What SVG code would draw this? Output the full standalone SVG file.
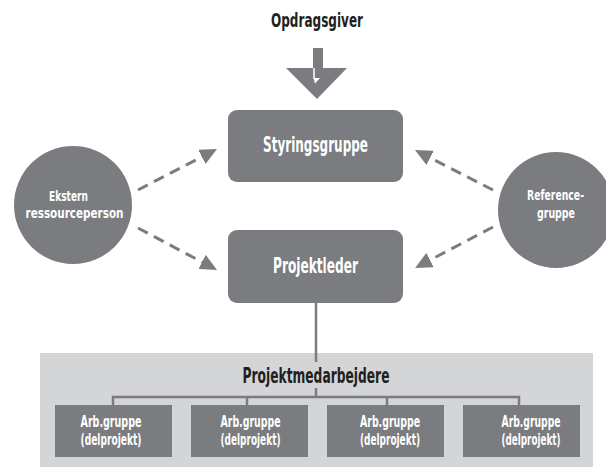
<svg xmlns="http://www.w3.org/2000/svg" width="606" height="467" viewBox="0 0 606 467">
<style>
.t{font-family:"DejaVu Sans Condensed","DejaVu Sans",sans-serif;font-weight:bold;text-anchor:middle}
.dark{fill:#231f20}
.white{fill:#ffffff}
.box{fill:#7b7c80}
.dash{stroke:#7b7c80;stroke-width:3;stroke-dasharray:11 7;fill:none}
.line{stroke:#7b7c80;stroke-width:2.5;fill:none}
</style>
<defs>
<marker id="ah" markerUnits="userSpaceOnUse" markerWidth="17" markerHeight="16" viewBox="0 0 17 16" refX="7" refY="8" orient="auto">
<path d="M0,0 L17,8 L0,16 z" fill="#7b7c80"/>
</marker>
</defs>
<rect x="40" y="353" width="553" height="114" fill="#d4d5d6"/>
<g id="opdragsgiver">
<text class="t dark" x="317" y="27" font-size="20" textLength="92" lengthAdjust="spacingAndGlyphs">Opdragsgiver</text>
<polygon points="286,68 347,68 317,99" fill="#7b7c80"/>
<rect x="313" y="48" width="10" height="33" fill="#7b7c80"/>
<line x1="314" y1="68" x2="314" y2="79" stroke="#ffffff" stroke-width="1.5"/>
<polygon points="313.5,78 320,78 315,83.5" fill="#ffffff"/>
</g>
<g id="connectors">
<line class="dash" x1="138" y1="190" x2="208.1" y2="153.6" marker-end="url(#ah)"/>
<line class="dash" x1="138" y1="228" x2="208.2" y2="265.3" marker-end="url(#ah)"/>
<line class="dash" x1="493" y1="190" x2="423.9" y2="154.6" marker-end="url(#ah)"/>
<line class="dash" x1="493" y1="227" x2="423.9" y2="263.3" marker-end="url(#ah)"/>
<line class="line" x1="316" y1="303" x2="316" y2="362"/>
<line class="line" x1="316" y1="388" x2="316" y2="397"/>
<polyline class="line" points="113,405 113,397 519,397 519,405"/>
<line class="line" x1="247" y1="397" x2="247" y2="405"/>
<line class="line" x1="387" y1="397" x2="387" y2="405"/>
</g>
<g id="styringsgruppe">
<rect class="box" x="228" y="110" width="175" height="72" rx="9"/>
<text class="t white" x="315.5" y="151.5" font-size="22" textLength="105" lengthAdjust="spacingAndGlyphs">Styringsgruppe</text>
</g>
<g id="projektleder">
<rect class="box" x="228" y="230" width="175" height="73" rx="9"/>
<text class="t white" x="315.5" y="273" font-size="22" textLength="85" lengthAdjust="spacingAndGlyphs">Projektleder</text>
</g>
<g id="ekstern">
<circle class="box" cx="73" cy="205" r="59"/>
<text class="t white" x="68.5" y="200.5" font-size="14.5" textLength="39" lengthAdjust="spacingAndGlyphs">Ekstern</text>
<text class="t white" x="74.5" y="217.5" font-size="14.5" textLength="98" lengthAdjust="spacingAndGlyphs">ressourceperson</text>
</g>
<g id="referencegruppe">
<circle class="box" cx="556" cy="210" r="58"/>
<text class="t white" x="555.5" y="199.5" font-size="14.5" textLength="57" lengthAdjust="spacingAndGlyphs">Reference-</text>
<text class="t white" x="556" y="218" font-size="14.5" textLength="38" lengthAdjust="spacingAndGlyphs">gruppe</text>
</g>
<g id="projektmedarbejdere">
<text class="t dark" x="316" y="382.5" font-size="22" textLength="147" lengthAdjust="spacingAndGlyphs">Projektmedarbejdere</text>
</g>
<g id="arb1">
<rect class="box" x="55" y="405" width="117" height="52"/>
<text class="t white" x="111" y="426.5" font-size="15.5" textLength="61" lengthAdjust="spacingAndGlyphs">Arb.gruppe</text>
<text class="t white" x="111" y="445" font-size="15.5" textLength="61" lengthAdjust="spacingAndGlyphs">(delprojekt)</text>
</g>
<g id="arb2">
<rect class="box" x="191" y="405" width="117" height="52"/>
<text class="t white" x="250.5" y="426.5" font-size="15.5" textLength="60" lengthAdjust="spacingAndGlyphs">Arb.gruppe</text>
<text class="t white" x="250.5" y="445" font-size="15.5" textLength="60" lengthAdjust="spacingAndGlyphs">(delprojekt)</text>
</g>
<g id="arb3">
<rect class="box" x="327" y="405" width="117" height="52"/>
<text class="t white" x="390" y="426.5" font-size="15.5" textLength="60" lengthAdjust="spacingAndGlyphs">Arb.gruppe</text>
<text class="t white" x="390" y="445" font-size="15.5" textLength="60" lengthAdjust="spacingAndGlyphs">(delprojekt)</text>
</g>
<g id="arb4">
<rect class="box" x="463" y="405" width="117" height="52"/>
<text class="t white" x="531" y="426.5" font-size="15.5" textLength="59" lengthAdjust="spacingAndGlyphs">Arb.gruppe</text>
<text class="t white" x="531" y="445" font-size="15.5" textLength="59" lengthAdjust="spacingAndGlyphs">(delprojekt)</text>
</g>
</svg>
